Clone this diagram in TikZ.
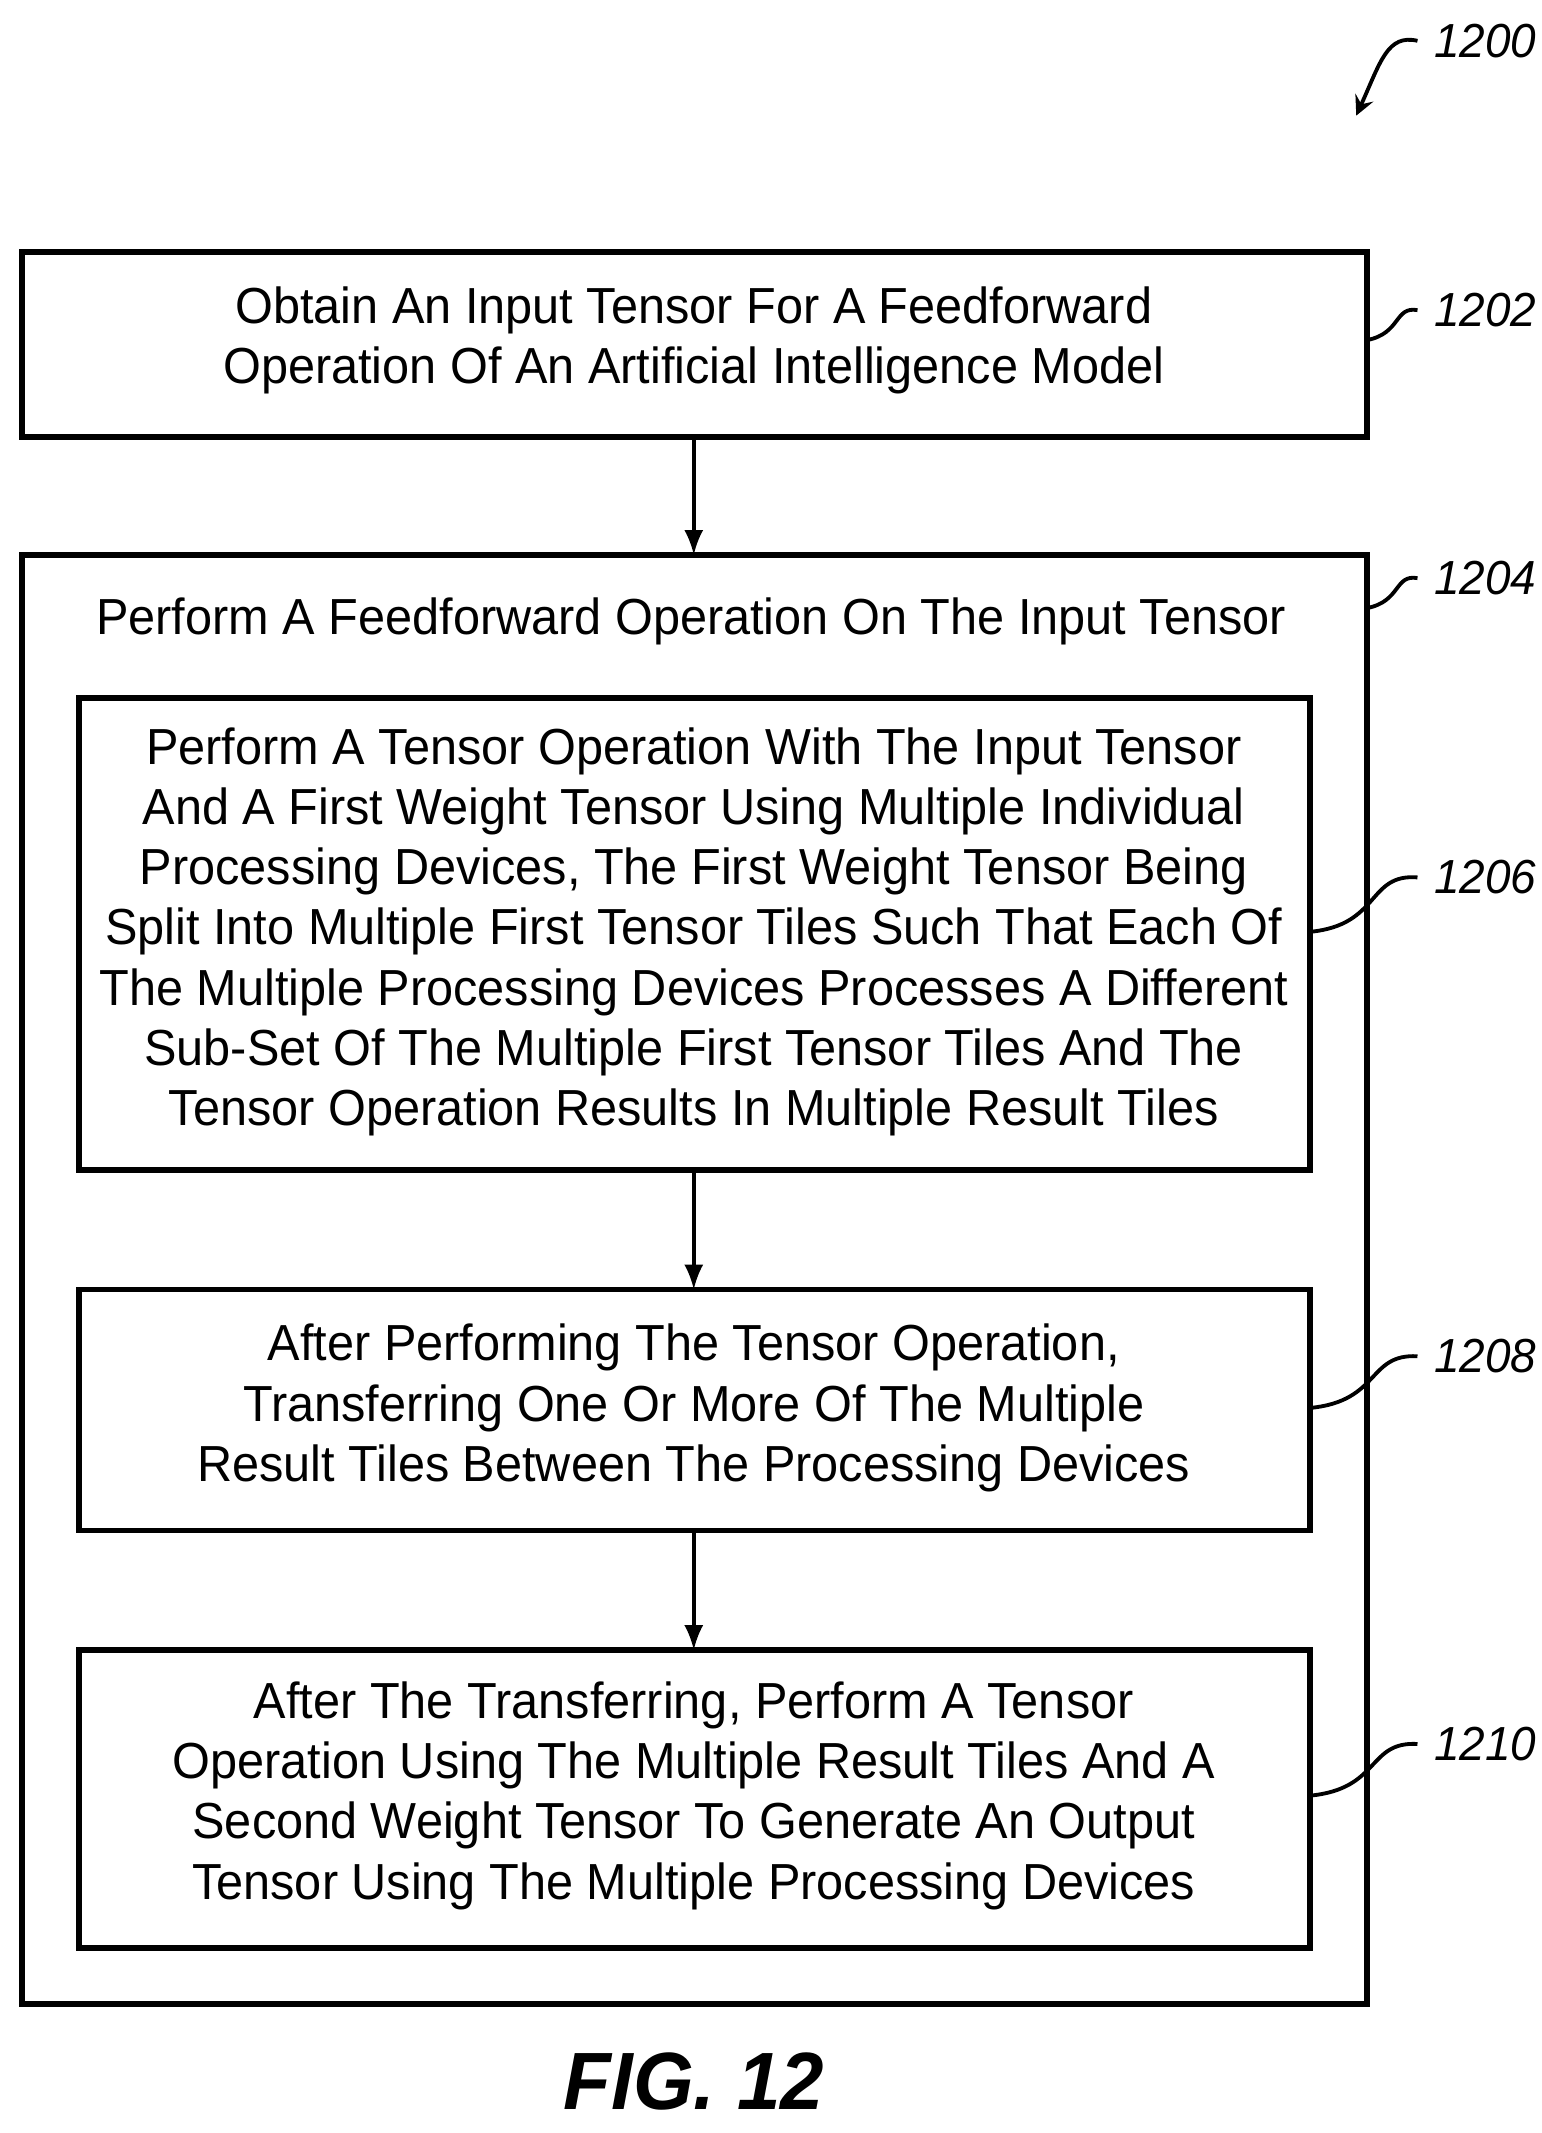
\documentclass[tikz,border=0pt]{standalone}
\usepackage{fontspec}
\setmainfont{Liberation Sans}[FakeStretch=0.96]
\usetikzlibrary{positioning}
\tikzset{
  stepbox/.style={draw, line width=1.2pt, align=center, inner sep=0pt,
    font=\fontsize{10.6}{12.6}\selectfont},
  ref/.style={font=\fontsize{10}{12}\selectfont\itshape, anchor=west},
  lead/.style={line width=0.8pt},
  flow/.style={->, line width=0.8pt, >=latex}
}
\begin{document}
\begin{tikzpicture}
  \useasboundingbox (0,0) rectangle (11.33,-15.68);

  % Kaesten
  \draw[stepbox] (0.16,-1.85) rectangle (10.05,-3.21);
  \draw[stepbox] (0.16,-4.08) rectangle (10.05,-14.73);
  \draw[stepbox] (0.58,-5.13) rectangle (9.63,-8.60);
  \draw[stepbox] (0.58,-9.48) rectangle (9.63,-11.25);
  \draw[stepbox] (0.58,-12.13) rectangle (9.63,-14.32);

  % Texte
  \node[stepbox, draw=none] (s1202) at (5.10,-2.50)
    {Obtain An Input Tensor For A Feedforward\\Operation Of An Artificial Intelligence Model};
  \node[stepbox, draw=none] (s1204) at (5.08,-4.57)
    {Perform A Feedforward Operation On The Input Tensor};
  \node[stepbox, draw=none] (s1206) at (5.10,-6.85)
    {Perform A Tensor Operation With The Input Tensor\\And A First Weight Tensor Using Multiple Individual\\Processing Devices, The First Weight Tensor Being\\Split Into Multiple First Tensor Tiles Such That Each Of\\The Multiple Processing Devices Processes A Different\\Sub-Set Of The Multiple First Tensor Tiles And The\\Tensor Operation Results In Multiple Result Tiles};
  \node[stepbox, draw=none] (s1208) at (5.10,-10.35)
    {After Performing The Tensor Operation,\\Transferring One Or More Of The Multiple\\Result Tiles Between The Processing Devices};
  \node[stepbox, draw=none] (s1210) at (5.10,-13.20)
    {After The Transferring, Perform A Tensor\\Operation Using The Multiple Result Tiles And A\\Second Weight Tensor To Generate An Output\\Tensor Using The Multiple Processing Devices};

  % Anschlusspunkte
  \coordinate (b1202) at (5.10,-3.21);
  \coordinate (t1204) at (5.10,-4.08);
  \coordinate (b1206) at (5.10,-8.60);
  \coordinate (t1208) at (5.10,-9.48);
  \coordinate (b1208) at (5.10,-11.25);
  \coordinate (t1210) at (5.10,-12.13);

  % Pfeile
  \draw[flow] (b1202) -- (t1204);
  \draw[flow] (b1206) -- (t1208);
  \draw[flow] (b1208) -- (t1210);

  % Bezugszeichen
  \node[ref] (r1200) at (10.42,-0.30) {1200};
  \node[ref] (r1202) at (10.42,-2.28) {1202};
  \node[ref] (r1204) at (10.42,-4.25) {1204};
  \node[ref] (r1206) at (10.42,-6.45) {1206};
  \node[ref] (r1208) at (10.42,-9.97) {1208};
  \node[ref] (r1210) at (10.42,-12.82) {1210};

  \coordinate (e1200) at (9.97,-0.85);
  \draw[lead, ->, >=stealth] (r1200.west) .. controls (10.20,-0.25) and (10.15,-0.45) .. (e1200);
  \draw[lead] (10.05,-2.50) .. controls (10.30,-2.45) and (10.25,-2.25) .. (r1202.west);
  \draw[lead] (10.05,-4.47) .. controls (10.30,-4.42) and (10.25,-4.22) .. (r1204.west);
  \draw[lead] (9.63,-6.85) .. controls (10.15,-6.80) and (10.05,-6.42) .. (r1206.west);
  \draw[lead] (9.63,-10.35) .. controls (10.15,-10.30) and (10.05,-9.95) .. (r1208.west);
  \draw[lead] (9.63,-13.20) .. controls (10.15,-13.15) and (10.05,-12.80) .. (r1210.west);

  % Unterschrift
  \node[font=\fontsize{17}{20}\selectfont\bfseries\itshape] (fig) at (5.10,-15.30) {FIG. 12};
\end{tikzpicture}
\end{document}
